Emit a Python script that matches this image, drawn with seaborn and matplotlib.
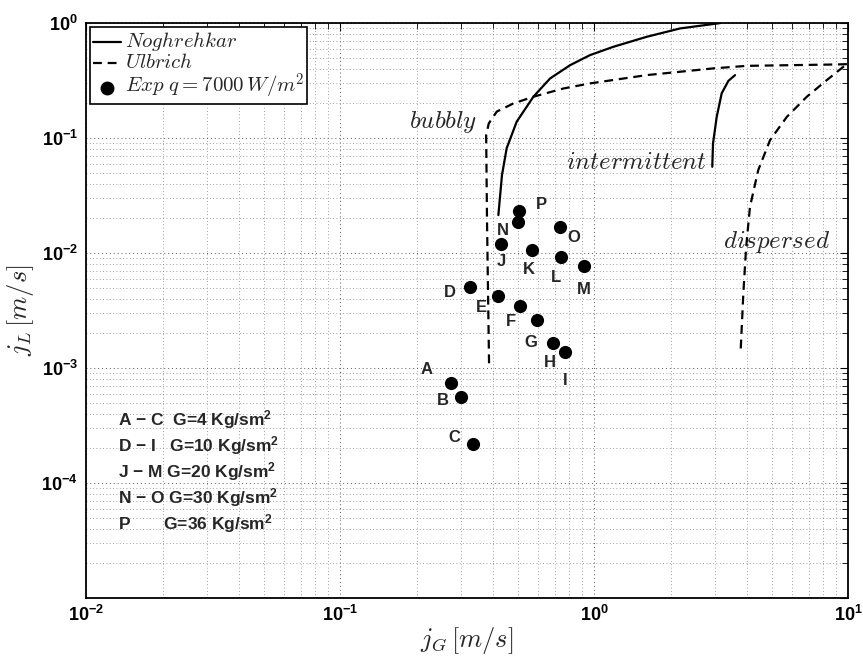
import numpy as np
import pandas as pd
import matplotlib
matplotlib.use("Agg")
import matplotlib.pyplot as plt
from matplotlib.lines import Line2D
import seaborn as sns

# ---- experimental points (q = 7000 W/m^2) ----
point_names = ["A", "B", "C", "D", "E", "F", "G", "H", "I",
               "J", "K", "L", "M", "N", "O", "P"]
j_gas = [0.273, 0.299, 0.333, 0.325, 0.420, 0.513, 0.597, 0.688, 0.771,
         0.430, 0.569, 0.741, 0.914, 0.504, 0.733, 0.507]
j_liq = [7.45e-4, 5.56e-4, 2.18e-4, 5.06e-3, 4.23e-3, 3.46e-3, 2.63e-3, 1.64e-3, 1.37e-3,
         1.19e-2, 1.06e-2, 9.23e-3, 7.66e-3, 1.86e-2, 1.68e-2, 2.32e-2]

# ---- Noghrehkar transition boundaries ----
nog_bubbly_jg = [0.420, 0.434, 0.453, 0.496, 0.577, 0.671, 0.805, 0.964, 1.19, 1.61, 2.18, 3.13]
nog_bubbly_jl = [0.0214, 0.0477, 0.0818, 0.139, 0.229, 0.330, 0.431, 0.527, 0.622, 0.760, 0.899, 1.0]
nog_int_jg = [2.92, 2.94, 3.04, 3.18, 3.38, 3.59]
nog_int_jl = [0.0563, 0.0899, 0.153, 0.245, 0.315, 0.353]

# ---- Ulbrich transition boundaries ----
ulb_bubbly_jg = [0.386, 0.379, 0.376, 0.385, 0.414, 0.481, 0.577, 0.757, 0.964, 1.61, 2.95, 3.99, 9.01, 10.0]
ulb_bubbly_jl = [1.10e-3, 0.0186, 0.106, 0.134, 0.170, 0.200, 0.229, 0.270, 0.299, 0.353, 0.404, 0.425, 0.437, 0.44]
ulb_disp_jg = [3.78, 3.87, 3.97, 4.11, 4.43, 4.93, 5.74, 6.88, 8.24, 9.58, 10.0]
ulb_disp_jl = [1.48e-3, 4.47e-3, 0.0113, 0.0253, 0.0527, 0.0961, 0.153, 0.229, 0.319, 0.417, 0.44]

# ---- mass flux groups ----
group_lines = [r"A $\mathbf{-}$ C  G=4 Kg/sm$^{\mathbf{2}}$",
               r"D $\mathbf{-}$ I   G=10 Kg/sm$^{\mathbf{2}}$",
               r"J $\mathbf{-}$ M G=20 Kg/sm$^{\mathbf{2}}$",
               r"N $\mathbf{-}$ O G=30 Kg/sm$^{\mathbf{2}}$",
               r"P       G=36 Kg/sm$^{\mathbf{2}}$"]

# regime names
regime_names = ["bubbly", "intermittent", "dispersed"]
regime_jg = [0.255, 1.47, 5.25]
regime_jl = [0.139, 0.0622, 0.0125]

# label offsets (pixels) for each point letter
label_offsets = {"A": (-24, 13), "B": (-18, -3), "C": (-18, 7), "D": (-20, -5),
                 "E": (-17, -11), "F": (-9, -15), "G": (-6, -23), "H": (-3, -19),
                 "I": (0, -28), "J": (0, -17), "K": (-3, -19), "L": (-5, -20),
                 "M": (0, -23), "N": (-16, -8), "O": (14, -10), "P": (22, 7)}

sns.set_style("white")
plt.rcParams["font.family"] = ["Liberation Sans", "DejaVu Sans"]
plt.rcParams["font.weight"] = "bold"
plt.rcParams["mathtext.fontset"] = "custom"
plt.rcParams["mathtext.rm"] = "Liberation Sans:bold"
plt.rcParams["mathtext.bf"] = "Liberation Sans:bold"
plt.rcParams["mathtext.it"] = "Liberation Sans:bold:italic"

fig = plt.figure(figsize=(8.63, 6.57), dpi=100)
ax = fig.add_axes([0.0997, 0.0898, 0.883, 0.875])
ax.set_xscale("log")
ax.set_yscale("log")
ax.set_xlim(1e-2, 1e1)
ax.set_ylim(1e-5, 1e0)

# grid, MATLAB-like sparse dots
ax.grid(True, which="major", linestyle=(0, (1, 3)), color="0.35", linewidth=0.7)
ax.grid(True, which="minor", linestyle=(0, (1, 3)), color="0.5", linewidth=0.6)
ax.set_axisbelow(True)

lw = 1.6
dash = (0, (4, 2.6))
curves = pd.DataFrame({
    "jg": nog_bubbly_jg + nog_int_jg,
    "jl": nog_bubbly_jl + nog_int_jl,
    "seg": ["nb"] * len(nog_bubbly_jg) + ["ni"] * len(nog_int_jg),
})
for seg, d in curves.groupby("seg"):
    sns.lineplot(data=d, x="jg", y="jl", sort=False, estimator=None, ax=ax,
                 color="black", linewidth=lw)
ucurves = pd.DataFrame({
    "jg": ulb_bubbly_jg + ulb_disp_jg,
    "jl": ulb_bubbly_jl + ulb_disp_jl,
    "seg": ["ub"] * len(ulb_bubbly_jg) + ["ud"] * len(ulb_disp_jg),
})
for seg, d in ucurves.groupby("seg"):
    sns.lineplot(data=d, x="jg", y="jl", sort=False, estimator=None, ax=ax,
                 color="black", linewidth=lw, linestyle=dash)

pts = pd.DataFrame({"name": point_names, "jg": j_gas, "jl": j_liq})
sns.scatterplot(data=pts, x="jg", y="jl", ax=ax, color="black", s=90,
                edgecolor="black", linewidth=0, zorder=5)

for n, xg, yl in zip(point_names, j_gas, j_liq):
    dx, dy = label_offsets[n]
    ax.annotate(n, (xg, yl), xytext=(dx, dy), textcoords="offset pixels",
                ha="center", va="center", fontsize=12, fontweight="bold")

for t, xg, yl in zip(regime_names, regime_jg, regime_jl):
    ax.text(xg, yl, "$" + t + "$", ha="center", va="center", fontsize=18,
            math_fontfamily="cm", zorder=2)

for i, line in enumerate(group_lines):
    ax.text(0.042, 0.310 - i * 0.045, line, transform=ax.transAxes,
            ha="left", va="center", fontsize=12.5, fontweight="bold")

# ticks
xt = [1e-2, 1e-1, 1e0, 1e1]
ax.set_xticks(xt)
ax.set_xticklabels([r"$\mathbf{10^{-2}}$", r"$\mathbf{10^{-1}}$",
                    r"$\mathbf{10^{0}}$", r"$\mathbf{10^{1}}$"])
yt = [1e-5, 1e-4, 1e-3, 1e-2, 1e-1, 1e0]
ax.set_yticks(yt)
ax.set_yticklabels(["", r"$\mathbf{10^{-4}}$", r"$\mathbf{10^{-3}}$",
                    r"$\mathbf{10^{-2}}$", r"$\mathbf{10^{-1}}$", r"$\mathbf{10^{0}}$"])
ax.tick_params(axis="both", which="both", direction="in", top=True, right=True,
               labelsize=13, colors="black")
ax.tick_params(which="major", length=6, width=0.8)
ax.tick_params(axis="x", which="major", pad=5)
ax.tick_params(axis="y", which="major", pad=6)
ax.tick_params(which="minor", length=4, width=0.6)
for s in ax.spines.values():
    s.set_linewidth(1.3)
    s.set_color("black")

ax.set_xlabel(r"$j_G\,[m/s]$", fontsize=19, math_fontfamily="cm", labelpad=0)
ax.set_ylabel(r"$j_L\,[m/s]$", fontsize=19, math_fontfamily="cm", labelpad=4)

handles = [Line2D([], [], color="black", linewidth=lw),
           Line2D([], [], color="black", linewidth=lw, linestyle=dash),
           Line2D([], [], color="black", linestyle="none", marker="o", markersize=9)]
leg = ax.legend(handles, [r"$Noghrehkar$", r"$Ulbrich$", r"$Exp\ q{=}7000\,W/m^2$"],
                loc="upper left", bbox_to_anchor=(0.0, 1.0), frameon=True,
                fancybox=False, edgecolor="black", framealpha=1,
                borderaxespad=0.3, handlelength=2.0, handletextpad=0.3,
                labelspacing=0.0, borderpad=0.2)
leg.get_frame().set_linewidth(1.2)
for t in leg.get_texts():
    t.set_fontsize(15)
    t.set_math_fontfamily("cm")

fig.savefig("out.png", dpi=100)
